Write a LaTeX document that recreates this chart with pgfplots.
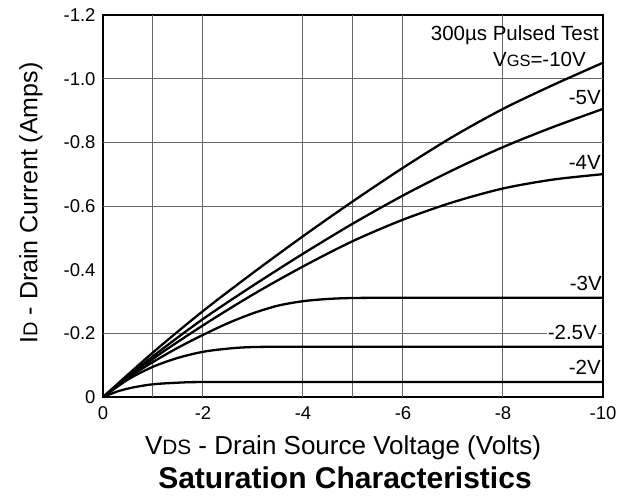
\documentclass[border=0pt]{standalone}
\usepackage{pgfplots}
\pgfplotsset{compat=1.18}
\usepackage{fontspec}
\setmainfont{Liberation Sans}
\newcommand{\tl}{\fontsize{18.5bp}{20bp}\selectfont}
\newcommand{\an}{\fontsize{20.5bp}{22bp}\selectfont}
\newcommand{\sub}[1]{{\fontsize{0.8em}{1em}\selectfont #1}}
\tikzset{curve/.style={black, solid, line width=2.3bp, smooth, mark=none}}
\begin{document}
\begin{tikzpicture}
\useasboundingbox (-103bp,-100bp) rectangle (516bp,397bp);
\begin{axis}[
  at={(0,0)}, anchor=south west,
  scale only axis, width=500bp, height=382bp,
  xmin=-10, xmax=0, ymin=-1.2, ymax=0,
  x dir=reverse, y dir=reverse,
  xtick={0,-2,-4,-6,-8,-10}, xticklabels={0,-2,-4,-6,-8,-10},
  ytick={0,-0.2,-0.4,-0.6,-0.8,-1,-1.2}, yticklabels={0,-0.2,-0.4,-0.6,-0.8,-1.0,-1.2},
  major tick length=0pt,
  extra x ticks={-1,-2,-4,-5,-6,-8}, extra x tick labels={},
  extra y ticks={-0.2,-0.6,-0.8,-1.0}, extra y tick labels={},
  extra tick style={grid=major},
  grid style={black!60, line width=1bp},
  axis line style={line width=2bp},
  xticklabel style={font=\tl, yshift=-6bp},
  yticklabel style={font=\tl, xshift=-4bp},
  clip=true,
]
% VGS = -10V
\addplot[curve] coordinates {(0,0) (-1,-0.14) (-2,-0.27) (-3,-0.39) (-4,-0.505) (-5,-0.615) (-6,-0.72) (-7,-0.818) (-8,-0.905) (-9,-0.98) (-10,-1.05)};
% -5V
\addplot[curve] coordinates {(0,0) (-1,-0.128) (-2,-0.245) (-3,-0.35) (-4,-0.45) (-5,-0.545) (-6,-0.633) (-7,-0.713) (-8,-0.785) (-9,-0.848) (-10,-0.905)};
% -4V
\addplot[curve] coordinates {(0,0) (-1,-0.12) (-2,-0.225) (-3,-0.322) (-4,-0.41) (-5,-0.49) (-6,-0.557) (-7,-0.612) (-8,-0.655) (-9,-0.683) (-10,-0.70)};
% -3V
\addplot[curve] coordinates {(0,0) (-0.5,-0.06) (-1,-0.11) (-1.5,-0.155) (-2,-0.195) (-2.5,-0.232) (-3,-0.263) (-3.5,-0.287) (-4,-0.301) (-4.5,-0.308) (-5,-0.311) (-6,-0.312) (-8,-0.312) (-10,-0.312)};
% -2.5V
\addplot[curve] coordinates {(0,0) (-0.5,-0.055) (-1,-0.095) (-1.5,-0.123) (-2,-0.142) (-2.5,-0.152) (-3,-0.157) (-4,-0.158) (-6,-0.158) (-8,-0.158) (-10,-0.158)};
% -2V
\addplot[curve] coordinates {(0,0) (-0.3,-0.018) (-0.6,-0.03) (-1,-0.04) (-1.5,-0.045) (-2,-0.047) (-4,-0.047) (-7,-0.047) (-10,-0.047)};

\node[anchor=east, font=\an, inner sep=1bp] at (axis cs:-9.94,-1.136) {300µs Pulsed Test};
\node[anchor=east, font=\an, inner sep=1bp] at (axis cs:-9.68,-1.059) {V\sub{GS}=-10V};
\node[anchor=east, font=\an, inner sep=1bp] at (axis cs:-9.98,-0.942) {-5V};
\node[anchor=east, font=\an, inner sep=1bp] at (axis cs:-9.98,-0.738) {-4V};
\node[anchor=east, font=\an, inner sep=1bp] at (axis cs:-10,-0.358) {-3V};
\node[anchor=east, font=\an, inner sep=1bp, fill=white] at (axis cs:-9.9,-0.204) {-2.5V};
\node[anchor=east, font=\an, inner sep=1bp] at (axis cs:-9.98,-0.094) {-2V};
\end{axis}
\node[font=\fontsize{26bp}{28bp}\selectfont] at (240bp,-51bp) {V\sub{DS} - Drain Source Voltage (Volts)};
\node[font=\fontsize{30bp}{32bp}\selectfont\bfseries] at (242bp,-81bp) {Saturation Characteristics};
\node[font=\fontsize{25bp}{28bp}\selectfont, rotate=90] at (-72bp,194bp) {I\sub{D} - Drain Current (Amps)};
\end{tikzpicture}
\end{document}
